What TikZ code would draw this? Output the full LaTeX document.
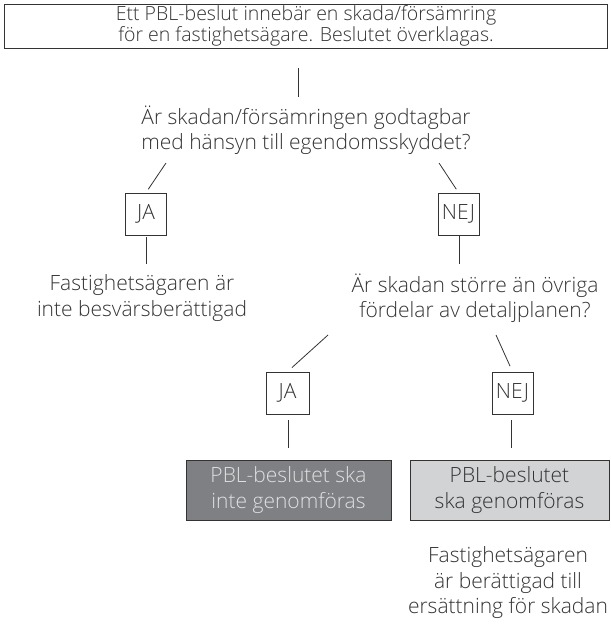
\documentclass[tikz,border=0pt]{standalone}
\usepackage{fontspec}
\setmainfont{Open Sans}[UprightFont={* Light}]
\definecolor{darkfill}{HTML}{7F8083}
\definecolor{lightfill}{HTML}{D2D3D4}
\definecolor{ink}{HTML}{333333}
\tikzset{
  txt/.style={align=center,inner sep=2pt,text=ink,font=\fontsize{21}{25.5}\selectfont},
  framed/.style={txt,draw=ink,line width=0.8pt,inner sep=0pt},
  answer/.style={framed,minimum width=41pt,minimum height=42pt},
  link/.style={draw=ink,line width=0.8pt}
}
\begin{document}
\begin{tikzpicture}[x=1pt,y=-1pt]
      \useasboundingbox (0,0) rectangle (610,628);
      \draw
        (306,26) node[framed,minimum width=603pt,minimum height=44pt,
          font=\fontsize{19.5}{20}\selectfont] (top)
          {\raisebox{-2pt}{Ett PBL-beslut innebär en skada/försämring}\\för en fastighetsägare. Beslutet överklagas.}
        (306,130) node[txt] (q1)
          {Är skadan/försämringen godtagbar\\med hänsyn till egendomsskyddet?}
        (146,214) node[answer] (ja1) {JA}
        (458.5,214) node[answer] (nej1) {NEJ}
        (142,298) node[txt] (res1)
          {Fastighetsägaren är\\inte besvärsberättigad}
        (475,298) node[txt] (q2)
          {Är skadan större än övriga\\fördelar av detaljplanen?}
        (287.5,393) node[answer,minimum width=43pt] (ja2) {JA}
        (512.5,393) node[answer] (nej2) {NEJ}
        (288.5,490) node[framed,fill=darkfill,text=white!88!black,
          minimum width=205pt,minimum height=60pt] (stop)
          {PBL-beslutet ska\\inte genomföras}
        (509.5,490) node[framed,fill=lightfill,
          minimum width=199pt,minimum height=60pt] (go)
          {PBL-beslutet\\ska genomföras}
        (508,583) node[txt] (comp)
          {Fastighetsägaren\\är berättigad till\\ersättning för skadan};
      % free ends of the connectors
      \coordinate (t1) at (298,68);
      \coordinate (q1a) at (166,163);
      \coordinate (q1b) at (439,163);
      \coordinate (q2a) at (328,335);
      \coordinate (q2b) at (496,335);
      \coordinate (s1) at (146,264);
      \coordinate (s2) at (459,264);
      \coordinate (s3) at (288,448);
      \coordinate (s4) at (511,448);
      \begin{scope}[link]
        \draw (t1) to ++(0,29);
        \draw[shorten <=4pt] (ja1.north) to (q1a);
        \draw[shorten <=4pt] (nej1.north) to (q1b);
        \draw (ja1.south |- 0,237) to (s1);
        \draw (nej1.south -| s2 |- 0,237) to (s2);
        \draw[shorten <=6pt] (ja2.north) to (q2a);
        \draw[shorten <=6pt] (nej2.north) to (q2b);
        \draw (s3 |- 0,420) to (s3);
        \draw (s4 |- 0,420) to (s4);
      \end{scope}
    \end{tikzpicture}
\end{document}
